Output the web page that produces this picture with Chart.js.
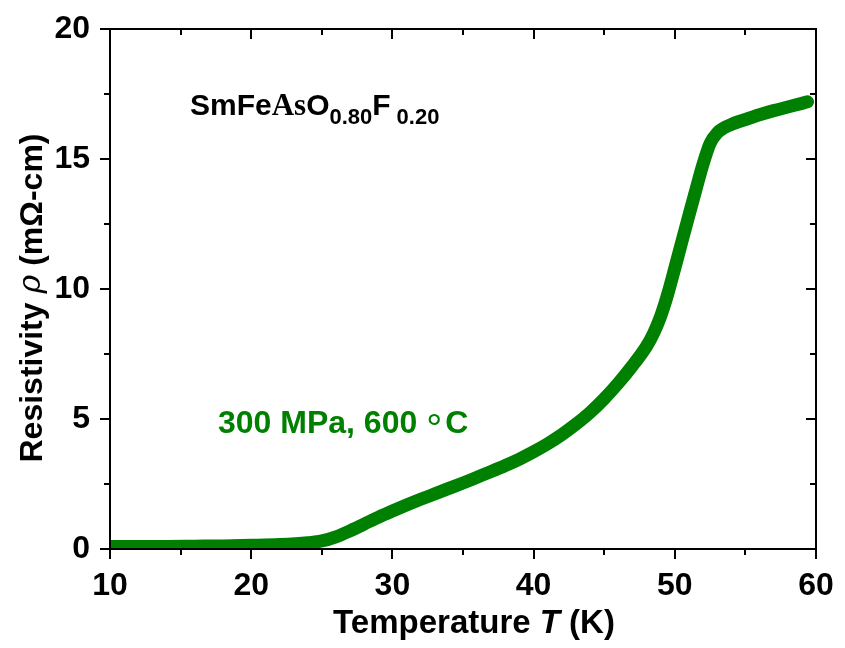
<!DOCTYPE html>
<html>
<head>
<meta charset="utf-8">
<script src="https://cdn.jsdelivr.net/npm/chart.js@4.4.1/dist/chart.umd.min.js"></script>
<style>
  body { margin: 0; background: #fff; }
  canvas { display: block; }
</style>
</head>
<body>
<canvas id="rhoChart" width="845" height="648"></canvas>
<script>
// resistivity curve (T in K, rho in mOhm-cm)
var temps = [10, 12, 14, 16, 18, 20, 22, 24, 25, 26, 27, 28, 29, 30, 31, 32, 33, 34, 35, 36,
    37, 38, 39, 40, 41, 42, 43, 44, 45, 46, 47, 48, 48.5, 49, 49.5, 50, 50.5, 51, 51.5, 52,
    52.5, 53, 53.5, 54, 55, 56, 57, 58, 59, 59.4];
var rho = [0.1, 0.1, 0.1, 0.11, 0.12, 0.14, 0.17, 0.24, 0.31, 0.47, 0.7, 0.96, 1.22, 1.46, 1.69, 1.91, 2.12, 2.33, 2.54, 2.76,
    2.98, 3.21, 3.46, 3.74, 4.05, 4.4, 4.8, 5.25, 5.78, 6.38, 7.05, 7.8, 8.3, 8.95, 9.8, 10.8, 11.82, 12.83, 13.83, 14.8,
    15.6, 16.0, 16.2, 16.33, 16.52, 16.7, 16.86, 17.0, 17.14, 17.2];

var xMajor = [10, 20, 30, 40, 50, 60];
var xMinor = [15, 25, 35, 45, 55];
var yMajor = [0, 5, 10, 15, 20];
var yMinor = [2.5, 7.5, 12.5, 17.5];

var sans = '"Liberation Sans", Arial, sans-serif';
var green = '#008000';

// frame, mirrored ticks, axis titles and annotations
var framePlugin = {
    id: 'frame',
    afterDraw: function (chart) {
        var ctx = chart.ctx;
        var a = chart.chartArea;
        var xs = chart.scales.x, ys = chart.scales.y;
        ctx.save();
        ctx.strokeStyle = '#000';
        ctx.lineWidth = 2;
        ctx.strokeRect(a.left, a.top, a.right - a.left, a.bottom - a.top);

        function xTick(v, len) {
            var px = Math.round(xs.getPixelForValue(v));
            ctx.beginPath();
            ctx.moveTo(px, a.bottom); ctx.lineTo(px, a.bottom + len);
            ctx.moveTo(px, a.top); ctx.lineTo(px, a.top + len);
            ctx.stroke();
        }
        function yTick(v, len) {
            var py = Math.round(ys.getPixelForValue(v));
            ctx.beginPath();
            ctx.moveTo(a.left, py); ctx.lineTo(a.left - len, py);
            ctx.moveTo(a.right, py); ctx.lineTo(a.right - len, py);
            ctx.stroke();
        }
        xMajor.forEach(function (v) { xTick(v, 10); });
        xMinor.forEach(function (v) { xTick(v, 6); });
        yMajor.forEach(function (v) { yTick(v, 10); });
        yMinor.forEach(function (v) { yTick(v, 6); });

        // draw a row of text pieces starting at x
        function pieces(list, x, y) {
            list.forEach(function (p) {
                ctx.font = p.font;
                ctx.fillStyle = p.color || '#000';
                x += p.dx || 0;
                ctx.fillText(p.text, x, y + (p.dy || 0));
                x += ctx.measureText(p.text).width;
            });
        }
        function width(list) {
            var w = 0;
            list.forEach(function (p) { ctx.font = p.font; w += ctx.measureText(p.text).width + (p.dx || 0); });
            return w;
        }

        ctx.textBaseline = 'alphabetic';
        ctx.textAlign = 'left';

        var xTitle = [
            { text: 'Temperature ', font: 'bold 33px ' + sans },
            { text: 'T', font: 'italic bold 33px ' + sans },
            { text: ' (K)', font: 'bold 33px ' + sans }
        ];
        pieces(xTitle, 474 - width(xTitle) / 2, 633);

        var yTitle = [
            { text: 'Resistivity ', font: 'bold 32px ' + sans },
            { text: 'ρ', font: 'italic 32px "DejaVu Serif", serif', dy: -2 },
            { text: ' (mΩ-cm)', font: 'bold 32px ' + sans }
        ];
        ctx.save();
        ctx.translate(42, 298);
        ctx.rotate(-Math.PI / 2);
        pieces(yTitle, -width(yTitle) / 2, 0);
        ctx.restore();

        pieces([
            { text: 'SmFe', font: 'bold 30px ' + sans },
            { text: 'As', font: 'bold 31px "Liberation Serif", serif' },
            { text: 'O', font: 'bold 30px ' + sans },
            { text: '0.80', font: 'bold 22px ' + sans, dy: 9 },
            { text: 'F', font: 'bold 30px ' + sans },
            { text: '0.20', font: 'bold 22px ' + sans, dy: 9, dx: 6 }
        ], 190, 115);

        pieces([
            { text: '300 MPa, 600 ', font: 'bold 32px ' + sans, color: green },
            { text: '°', font: '40px ' + sans, color: green, dy: 9 },
            { text: 'C', font: 'bold 32px ' + sans, color: green, dx: 3 }
        ], 218, 433);

        ctx.restore();
    }
};

new Chart(document.getElementById('rhoChart'), {
    type: 'scatter',
    data: {
        datasets: [{
            data: temps.map(function (t, i) { return { x: t, y: rho[i] }; }),
            showLine: true,
            borderColor: green,
            backgroundColor: green,
            borderWidth: 13,
            borderCapStyle: 'round',
            borderJoinStyle: 'round',
            cubicInterpolationMode: 'monotone',
            pointRadius: 0,
            clip: 0
        }]
    },
    options: {
        responsive: false,
        animation: false,
        layout: { padding: { top: 29, right: 29, left: 0, bottom: 0 } },
        plugins: { legend: { display: false }, tooltip: { enabled: false } },
        scales: {
            x: {
                type: 'linear', min: 10, max: 60,
                grid: { display: false, drawTicks: false },
                border: { display: false },
                ticks: { stepSize: 10, color: '#000', padding: 18, font: { family: sans, size: 32, weight: 'bold' } },
                afterFit: function (s) { s.height = 99; s.paddingLeft = 0; s.paddingRight = 0; }
            },
            y: {
                min: 0, max: 20,
                grid: { display: false, drawTicks: false },
                border: { display: false },
                ticks: { stepSize: 5, color: '#000', padding: 20, font: { family: sans, size: 32, weight: 'bold' } },
                afterFit: function (s) { s.width = 110; s.paddingTop = 0; s.paddingBottom = 0; }
            }
        }
    },
    plugins: [framePlugin]
});
</script>
</body>
</html>
